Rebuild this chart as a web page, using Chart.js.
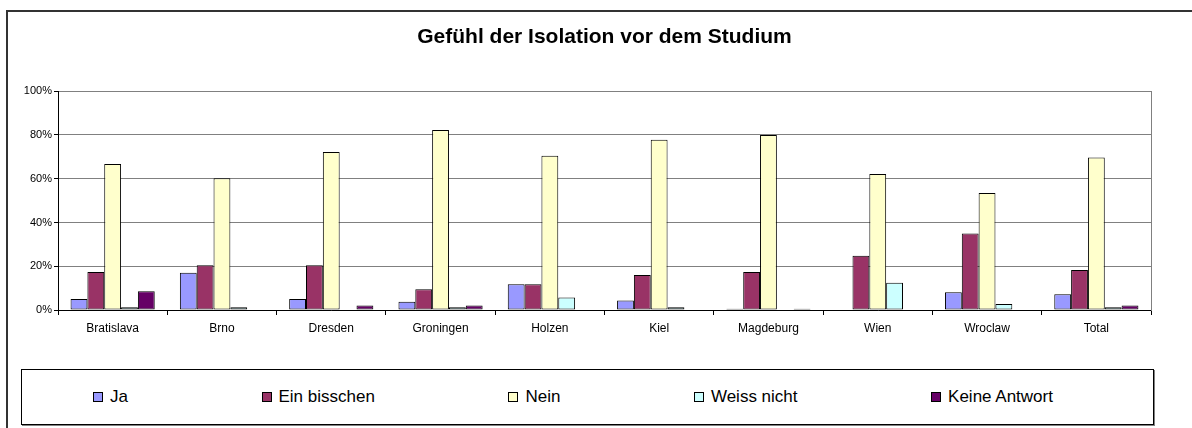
<!DOCTYPE html>
<html>
<head>
<meta charset="utf-8">
<script src="https://cdn.jsdelivr.net/npm/chart.js@4/dist/chart.umd.min.js"></script>
<style>
    html, body { margin: 0; padding: 0; background: #fff; width: 1192px; height: 428px; overflow: hidden; position: relative; font-family: "Liberation Sans", Arial, sans-serif; }
    #frame { position: absolute; left: 6px; top: 10px; width: 1200px; height: 430px; border: 2px solid #333; box-sizing: border-box; }
    #chartBox { position: absolute; left: 17px; top: 0; width: 1175px; height: 350px; }
    #legend { position: absolute; left: 21px; top: 369px; width: 1133px; height: 56px; box-sizing: border-box;
              border: 1px solid #000; box-shadow: 1px 1px 0 #808080; background: #fff;
              display: flex; align-items: center; justify-content: space-between; padding: 0 100px 0 71px; }
    .item { display: flex; align-items: center; font-size: 17px; color: #000; white-space: nowrap; }
    .mark { width: 8px; height: 8px; border: 1px solid #000; margin-right: 7px; }
</style>
</head>
<body>
<div id="frame"></div>
<div id="chartBox"><canvas id="isolation"></canvas></div>
<div id="legend"></div>
<script>
const categories = ['Bratislava', 'Brno', 'Dresden', 'Groningen', 'Holzen', 'Kiel', 'Magdeburg', 'Wien', 'Wroclaw', 'Total'];
const ja = [5.0, 17.0, 5.0, 3.8, 11.8, 4.3, 0.6, 0, 8.1, 7.2];
const einBisschen = [17.4, 20.5, 20.5, 9.5, 11.8, 16.0, 17.4, 24.8, 35.0, 18.3];
const nein = [66.7, 60.2, 72.2, 82.3, 70.5, 77.8, 80.0, 62.2, 53.5, 69.7];
const weissNicht = [1.2, 1.2, 0, 1.2, 5.7, 1.2, 0, 12.5, 2.7, 1.2];
const keineAntwort = [8.6, 0, 2.1, 2.1, 0, 0, 0.6, 0, 0, 2.1];
const yTicks = [0, 20, 40, 60, 80, 100];

const seriesNames = ['Ja', 'Ein bisschen', 'Nein', 'Weiss nicht', 'Keine Antwort'];
const seriesColors = ['#9999ff', '#993366', '#ffffcc', '#ccffff', '#660066'];
const seriesData = [ja, einBisschen, nein, weissNicht, keineAntwort];

Chart.defaults.font.family = '"Liberation Sans", Arial, sans-serif';
Chart.defaults.color = '#000';

const datasets = seriesNames.map((name, i) => ({
    label: name,
    data: seriesData[i],
    backgroundColor: seriesColors[i],
    borderColor: '#000',
    borderWidth: 1,
    borderSkipped: false,
    categoryPercentage: 0.77,
    barPercentage: 1.0
}));

const config = {
    type: 'bar',
    data: {
        labels: categories,
        datasets: datasets
    },
    options: {
        responsive: true,
        maintainAspectRatio: false,
        animation: false,
        layout: { padding: 0 },
        plugins: {
            legend: { display: false },
            tooltip: { enabled: false },
            title: {
                display: true,
                text: 'Gefühl der Isolation vor dem Studium',
                font: { size: 21, weight: 'bold' },
                color: '#000',
                padding: { top: 25, bottom: 41 }
            }
        },
        scales: {
            x: {
                grid: { drawOnChartArea: false, offset: true, tickLength: 5, tickColor: '#000' },
                border: { color: '#000' },
                ticks: { font: { size: 12 }, padding: 6, maxRotation: 0, autoSkip: false },
                afterFit: (s) => { s.height = 40; }
            },
            y: {
                min: 0,
                max: 100,
                afterBuildTicks: (s) => { s.ticks = yTicks.map(v => ({ value: v })); },
                ticks: { font: { size: 11 }, padding: 2, callback: (v) => v + '%' },
                grid: { color: '#808080', tickLength: 4, tickColor: '#000' },
                border: { color: '#000' },
                afterFit: (s) => { s.width = 41; }
            },
            edge: {
                position: 'right',
                display: true,
                min: 0,
                max: 100,
                grid: { display: false, drawTicks: false },
                ticks: { display: false },
                border: { color: '#808080' },
                afterFit: (s) => { s.width = 41; }
            }
        }
    }
};

const chart = new Chart(document.getElementById('isolation'), config);

// legend built from the chart's datasets
const legendEl = document.getElementById('legend');
chart.data.datasets.forEach(ds => {
    const item = document.createElement('div');
    item.className = 'item';
    const mark = document.createElement('span');
    mark.className = 'mark';
    mark.style.background = ds.backgroundColor;
    item.appendChild(mark);
    item.appendChild(document.createTextNode(ds.label));
    legendEl.appendChild(item);
});
</script>
</body>
</html>
